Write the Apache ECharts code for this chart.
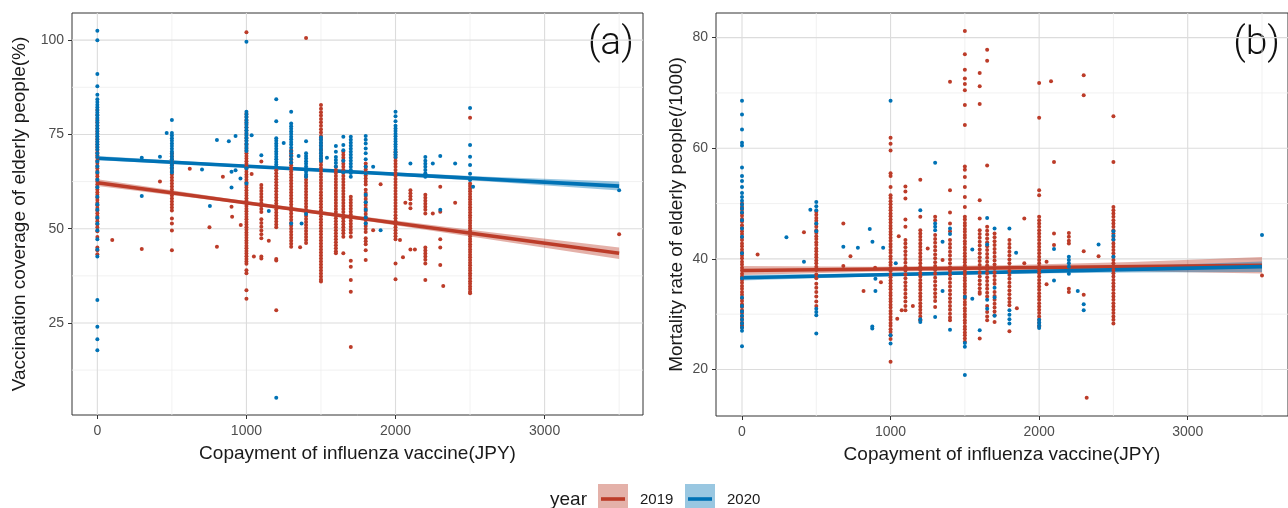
<!DOCTYPE html>
<html><head><meta charset="utf-8">
<script src="https://cdn.jsdelivr.net/npm/echarts@6/dist/echarts.min.js"></script>
<style>html,body{margin:0;padding:0;background:#fff}#c{width:1288px;height:508px}</style>
</head><body><div id="c"></div><script>
// ---------- tick values ----------
const xTicks = [0, 1000, 2000, 3000];
const xMinor = [500, 1500, 2500, 3500];
const aYTicks = [25, 50, 75, 100];
const aYMinor = [12.5, 37.5, 62.5, 87.5];
const bYTicks = [20, 40, 60, 80];
const bYMinor = [30, 50, 70];

// ---------- panel (a): vaccination coverage, columns [copayment, [values]] ----------
const a2019 = [
 [0, [81.5,80.2,79.1,78.2,77.4,76.6,75.8,75.1,74.4,73.7,73,72.3,71.6,70.9,70.2,69.5,68.8,68.1,67.4,66.7,66,65.3,64.6,63.9,63.2,62.5,61.8,61.1,60.4,59.7,59,58.3,57.6,56.9,56.2,55.5,54.8,54.1,53.4,52.7,52,51.2,50.4,49.3,47.8,45,44.3,43.2]],
 [100, [47]], [298, [44.6]], [420, [62.5]],
 [500, [70,69.2,68.4,67.6,66.8,66,65.2,64.4,63.6,62.8,62,61.2,60.4,59.6,58.8,58,57.2,56.4,55.6,54.8,52.7,51.4,49.5,44.3]],
 [620, [65.9]], [752, [50.4]], [802, [45.2]], [842, [63.8]], [900, [55.8]], [904, [53.2]], [962, [51]], [1035, [64.5]],
 [1000, [102.1,80.5,79.6,78.7,77.8,76.9,76,75.1,74.2,73.3,72.4,71.5,70.7,70,69.3,68.6,67.9,67.2,66.5,65.8,65.1,64.4,63.7,63,62.3,61.6,60.9,60.2,59.5,58.8,58.1,57.4,56.7,56,55.3,54.6,53.9,53.2,52.5,51.8,51.1,50.4,49.7,49,48.3,47.6,46.9,46.2,45.5,44.8,44.1,43.4,42.7,42,41.3,40.7,39,38.2,33.7,31.4]],
 [1050, [42.6]],
 [1100, [67.8,61.6,60.8,60,59.2,58.4,57.6,56.8,56,55.2,54.4,52.5,51.5,50.5,49.5,48.5,47.5,42.6,42.1]],
 [1150, [46.8]],
 [1200, [65.5,64.7,63.9,63.1,62.3,61.5,60.7,59.9,59.1,58.3,57.5,56.7,55.9,55.1,54.3,53.5,52.7,51.9,51.1,50.4,42,41.6,28.4]],
 [1300, [70.8,70,69.2,68.4,67.6,66.8,66,65.2,64.4,63.6,62.8,62,61.2,60.4,59.6,58.8,58,57.2,56.4,55.6,54.8,54,53.2,52.4,51.6,50.8,50,49.2,48.4,47.6,46.8,46,45.2]],
 [1360, [45.1]],
 [1400, [100.6,63.8,63,62.2,61.4,60.6,59.8,59,58.2,57.4,56.6,55.8,55,54.2,53.4,52.6,51.8,51,50.2,49.4,48.6,47.8,47,46.2]],
 [1500, [82.8,81.8,80.9,80,79.1,78.2,77.3,76.4,75.5,74.6,73.7,72.8,71.9,71,70.1,69.3,68.5,67.7,66.9,66.1,65.3,64.5,63.7,62.9,62.1,61.3,60.5,59.7,58.9,58.1,57.3,56.5,55.7,54.9,54.1,53.3,52.5,51.7,50.9,50.1,49.3,48.5,47.7,46.9,46.1,45.3,44.5,43.7,42.9,42.1,41.3,40.5,39.7,38.9,38.1,37.3,36.5,36]],
 [1600, [66.4,65.6,64.8,64,63.2,62.4,61.6,60.8,60,59.2,58.4,57.6,56.8,56,55.2,54.4,53.6,52.8,52,51.2,50.4,49.6,48.8,48,47.2,46.4,45.6,44.8,44,43.5]],
 [1650, [70.4,69.6,68.8,68,67.2,66.4,65.6,64.8,64,63.2,62.4,61.6,60.8,60,59.2,58.4,57.6,56.8,56,55.2,54.4,53.6,52.8,52,51.2,50.4,49.6,48.8,47.9,43.5]],
 [1700, [58.5,57.7,56.9,56.1,55.3,54.5,53.7,52.9,52.1,51.3,50.5,49.7,48.9,47.9,41.5,39.9,36.4,33.3,18.6]],
 [1800, [67.3,66.5,65.7,64.9,64.1,63.3,62.5,61.7,60.3,59.5,58.7,57.9,57.1,56.3,55.5,54.7,53.9,53.1,52.3,51.5,50.7,49.9,49.1,47.5,46.7,45.9,44.3,41.7]],
 [1850, [49.6]], [1900, [61.8]],
 [2000, [70.4,69.6,68.8,68,67.2,66.4,65.6,64.8,64,63.2,62.4,61.6,60.8,60,59.2,58.4,57.6,56.8,56,55.2,54.4,53.6,52.8,52,51.2,50.4,49.6,48.8,48,47.2,40.8,36.6]],
 [2030, [47]], [2050, [42.4]], [2066, [56.9]],
 [2100, [60.2,59.4,58.6,57.8,56.6,55.4,44.5]],
 [2130, [44.5]],
 [2200, [59,58.2,57.4,56.6,55.8,55,54,45,44.2,43.4,42.6,41.8,40.8,36.4]],
 [2250, [54]],
 [2300, [61.1,54.5,47.2,45,40.4]],
 [2320, [34.8]], [2400, [56.9]],
 [2500, [79.4,62,61.3,60.6,59.9,59.2,58.5,57.8,57.1,56.4,55.7,55,54.3,53.6,52.9,52.2,51.5,50.8,50.1,49.4,48.7,48,47.3,46.6,45.9,45.2,44.5,43.8,43.1,42.4,41.7,41,40.3,39.6,38.9,38.2,37.5,36.8,36.1,35.4,34.7,34,33.3,32.9]],
 [3500, [48.5]]
];
const a2020 = [
 [0, [102.5,100,91,87.8,85.5,84.3,83.6,82.9,82.2,81.5,80.8,80.1,79.4,78.7,78,77.3,76.6,75.9,75.2,74.5,73.8,73.1,72.4,71.7,71,70,69,67.8,66.5,65,63,61,58.5,56.5,55,53,51.4,49.6,47.2,44.5,42.6,31.1,24,20.7,17.8]],
 [298, [68.8,58.7]], [420, [69.1]], [465, [75.4]],
 [500, [78.8,75.4,74.7,74,73.3,72.6,71.9,71.2,70.5,69.8,69.1,68.4,67.7,67,66.3,65.6,64.9]],
 [702, [65.7]], [755, [56]], [802, [73.5]], [882, [73.2]], [900, [65.1,60.9]], [927, [74.6,65.5]], [960, [63.3]], [1035, [74.8]],
 [1000, [99.6,81,80.3,79.6,78.9,78.2,77.5,76.8,76.1,75.4,74.7,74,73.3,72.6,71.9,71.2,70.6,66,62]],
 [1100, [69.5]], [1150, [54.7]],
 [1200, [84.3,78.5,74,73.3,72.6,71.9,71.2,70.5,69.8,69.1,68.4,67.7,67,66.4,5.2]],
 [1250, [72.7]],
 [1300, [81,77.9,77.2,76.5,75.8,75.1,74.4,73.7,73,72.3,71.5,70.5,69.5,68.5,67.5,51.4]],
 [1350, [69.3]], [1370, [51.4]],
 [1400, [73.2,70,69.3,68.6,67.9,67.2,66.5,65.8,65.1,64.4,63.8,53.9]],
 [1500, [74.2,73.5,72.8,72.1,71.4,70.7,70,69.3,68.6,68]],
 [1540, [68.8]],
 [1600, [71.9,70.4,69,68.2,67.4,66.5]],
 [1650, [74.4,72.2,70.8,68,65]],
 [1700, [74.4,73.6,72.8,72,71.2,70.4,69.6,68.8,68,67.2,66.4,65.6,64.8,63.8]],
 [1800, [74.6,73.6,72.6,71.3,70,68.4,66.4,64.7,59,57,55,53,51.4]],
 [1850, [66.4]], [1900, [49.6]],
 [2000, [81,79.8,78.5,77.3,76.6,75.9,75.2,74.5,73.8,73.1,72.4,71.7,71,70.3,69.6,69]],
 [2100, [67.3]],
 [2200, [69,68,67.2,66.4,65.6,64.7,63.8]],
 [2250, [67.3]], [2300, [69.3,55]], [2400, [67.3]],
 [2500, [82,72.2,69.1,66.9,64.6,62.9]], [2520, [61.1]],
 [3500, [60.2]]
];

// ---------- panel (b): mortality rate ----------
const b2019 = [
 [0, [50,49.4,48.9,48.3,47.8,47.2,46.7,46.1,45.6,45,44.5,43.9,43.4,42.8,42.3,41.7,41.2,40.6,40.1,39.5,39,38.4,37.9,37.3,36.8,36.2,35.7,35.1,34.6,34,33.5,32.9,32.4,31.8,31.3,30.7,30.2,29.6,29.1,28.5,28,27.6]],
 [105, [40.8]], [417, [44.8]],
 [500, [48.5,48,47.4,46.9,46.3,45.8,45.2,44.7,44.1,43.6,43,42.5,41.9,41.4,40.8,40.3,39.7,39.2,38.6,38,37.2,36.5,35.5,34.8,34,33.2,32.3,31.5]],
 [682, [46.4,38.7]], [730, [40.5]], [818, [34.2]], [896, [38.4]], [935, [35.8]],
 [1000, [61.9,60.8,59.6,55.5,55,53,51.5,51,50.4,49.9,49.3,48.8,48.2,47.7,47.1,46.6,46,45.5,44.9,44.4,43.8,43.3,42.7,42.2,41.6,41.1,40.5,40,39.4,38.9,38.3,37.8,37.2,36.7,36.1,35.6,35,34.5,33.9,33.4,32.8,32.3,31.7,31.2,30.6,30.1,29.5,29,28.4,27.9,27.3,26.8,26.2,25.5,21.4]],
 [1045, [29.2]], [1055, [44.1]], [1075, [30.7]],
 [1100, [53.1,52.2,50.9,47.1,45.8,43.4,42.8,42.1,41.4,40.7,40,39.3,38.6,37.9,37.2,36.5,35.8,35.1,34.4,33.7,33,32.3,31.5,30.7]],
 [1150, [31.5]],
 [1200, [54.3,47.6,45.2,44.6,44,43.4,42.8,42.2,41.6,41,40.4,39.8,39.2,38.6,38,37.4,36.8,36.2,35.6,35,34.4,33.8,33.2,32.6,32,31.4,30.8,30.2,29.6,28.9]],
 [1250, [41.9]],
 [1300, [47.6,47,44.3,43.6,42.9,42.2,41.5,40.8,40.1,39.4,38.7,38,37.3,36.6,35.9,35.2,34.5,33.8,33.1,32.4,31.3]],
 [1350, [39.8]],
 [1400, [72,52.4,48.4,46.4,45,43.4,42.7,42,41.3,40.6,39.9,39.2,38.5,37.8,37.1,36.4,35.7,35,34.3,33.6,32.9,32.2,31.5,30.8,30.1,29.4,28.9]],
 [1500, [81.2,77,74.2,72.6,71.6,70.5,67.8,64.2,56.7,56.1,54.8,53,51.2,49.4,47.6,47.1,46.5,46,45.4,44.9,44.3,43.8,43.2,42.7,42.1,41.6,41,40.5,39.9,39.4,38.8,38.3,37.7,37.2,36.6,36.1,35.5,35,34.4,33.9,33.3,32.8,32.2,31.7,31.1,30.6,30,29.5,28.9,28.4,27.8,27.3,26.7,26.2,25.6,25]],
 [1600, [73.6,71.2,68,50.6,47.3,45.2,44.5,43.8,43.1,42.4,41.7,41,40.3,39.6,38.9,38.2,37.5,36.8,36.1,35.4,34.7,34,33.7,25.6]],
 [1650, [77.8,75.8,56.9,45.8,45.1,44.4,43.7,43,42.3,41.6,40.9,40.2,39.5,38.8,38.1,37.4,36.7,36,35.3,34.6,33.9,33.2,31.5,30.4,29.6,28.9]],
 [1700, [44.6,43.9,43.2,42.5,41.8,41.1,40.4,39.7,39,38.3,37.6,36.9,36.2,35.5,34,33.3,32.6,31.9,31.2,30.5,29.8,28.6]],
 [1800, [43.4,42.7,42,41.3,40.6,39.9,39.2,38.5,37.8,37.1,36.4,35.7,35,34.3,33.6,32.9,32.2,31.6,26.9]],
 [1850, [31.1]], [1900, [47.3,39.2]],
 [2000, [71.8,65.5,52.4,51.5,47.6,47,46.4,45.8,45.2,44.6,44,43.4,42.8,42.2,41.6,41,40.4,39.8,39.2,38.6,38,37.4,36.8,36.2,35.6,35,34.4,33.8,33.2,32.6,32,31.4,30.8,30.2,29.6,29,28.4,27.8]],
 [2050, [39.5,35.4]], [2080, [72.1]], [2100, [57.5,44.6,42.5]],
 [2200, [44.7,44,43.3,42.8,34.6,34]],
 [2300, [73.2,69.6,41.4,33.5]], [2320, [14.9]], [2400, [40.5]],
 [2500, [65.8,57.5,49.4,48.8,48.2,47.6,47,46.4,45.8,45.2,44.6,44,43.4,42.8,42.2,41.6,41,40.4,39.8,39.2,38.6,38,37.4,36.8,36.2,35.6,35,34.4,33.8,33.2,32.6,32,31.4,30.8,30.2,29.6,29,28.3]],
 [3500, [37]]
];
const b2020 = [
 [0, [68.6,66.1,63.4,61,60.5,56.5,55,54.1,53,51.9,51.2,50.5,49.8,49.1,48.4,47,45.5,44,41,36.5,33,31.5,30.5,29.7,29,28.3,27.6,27,24.2]],
 [299, [43.9]], [417, [39.5]], [460, [48.9]],
 [500, [50.3,49.5,48.8,46.4,45,31,30.4,29.8,26.5]],
 [682, [42.2]], [780, [42]], [860, [45.4]], [877, [27.8,27.4]], [878, [43.1]], [898, [36.4,34.2]], [950, [42]], [1035, [39.2]],
 [1000, [68.6,26.2,24.7]],
 [1200, [48.8,29.1,28.6]],
 [1300, [57.4,46.4,45.8,45.2,29.5]],
 [1350, [43.1,34.2]],
 [1400, [45.5,44.5,27.2]],
 [1500, [33.1,24.8,24.1,19]],
 [1550, [41.7,32.8]], [1600, [27.1]],
 [1650, [47.4,42.6,32.6,31]],
 [1700, [45.5,34.8,33,29.7]],
 [1800, [45.5,30.7,29.9,29.1,28.3]],
 [1845, [41.1]],
 [2000, [29,28.5,28,27.5]],
 [2100, [41.8,36.1]],
 [2200, [40.4,39.8,39.2,38.6,37.3]],
 [2260, [34.2]], [2300, [31.8,30.7]], [2400, [42.6]],
 [2500, [45,44.2,43.5,40.4]],
 [3500, [44.3]]
];

// ---------- linear fits and confidence bands ----------
const fitX = [0, 3500];
const fitA2019 = [62.2, 43.5];
const fitA2020 = [68.7, 61.3];
const fitB2019 = [37.9, 38.85];
const fitB2020 = [36.6, 38.6];
const bandX = [0, 875, 1750, 2625, 3500];
const bandA2019Lo = [61.3, 57.08, 52.35, 47.23, 42.0];
const bandA2019Hi = [63.1, 57.98, 53.35, 49.13, 45.0];
const bandA2020Lo = [68.15, 66.5, 64.65, 62.55, 60.1];
const bandA2020Hi = [69.25, 67.2, 65.35, 63.75, 62.5];
const bandB2019Lo = [37.1, 37.69, 37.93, 37.76, 37.35];
const bandB2019Hi = [38.7, 38.59, 38.83, 39.46, 40.35];
const bandB2020Lo = [36.1, 36.8, 37.3, 37.55, 37.65];
const bandB2020Hi = [37.1, 37.4, 37.9, 38.65, 39.55];

// ---------- styling ----------
const RED = '#BC3C29', BLUE = '#0072B5';
const RED_BAND = 'rgba(188,60,41,0.4)', BLUE_BAND = 'rgba(0,114,181,0.4)';
const FONT = "'Liberation Sans', Arial, sans-serif";
const MAJOR = '#dcdcdc', MINOR = '#ededed';

function pts(cols) { const out = []; cols.forEach(([x, ys]) => ys.forEach(y => out.push([x, y]))); return out; }

// grid lines drawn beneath the points, positioned through the axes
function gridLines(gi, values, vertical, color, width) {
  return { type: 'custom', xAxisIndex: gi, yAxisIndex: gi, silent: true, z: 0, clip: true,
    data: values.map(v => vertical ? [v, 50] : [0, v]),
    renderItem: (params, api) => {
      const cs = params.coordSys;
      const p = api.coord([api.value(0), api.value(1)]);
      const shape = vertical
        ? { x1: p[0], y1: cs.y, x2: p[0], y2: cs.y + cs.height }
        : { x1: cs.x, y1: p[1], x2: cs.x + cs.width, y2: p[1] };
      return { type: 'line', shape: shape, style: { stroke: color, lineWidth: width } };
    } };
}
function scatter(gi, cols, color) {
  return { type: 'scatter', xAxisIndex: gi, yAxisIndex: gi, data: pts(cols), symbolSize: 4,
    itemStyle: { color: color, opacity: 1, borderWidth: 0 }, silent: true, z: 2 };
}
function band(gi, lo, hi, fill) {
  return { type: 'custom', xAxisIndex: gi, yAxisIndex: gi, data: [[bandX[0], lo[0]]], silent: true, z: 2,
    renderItem: (params, api) => {
      const up = bandX.map((x, i) => api.coord([x, hi[i]]));
      const dn = bandX.map((x, i) => api.coord([x, lo[i]])).reverse();
      return { type: 'polygon', shape: { points: up.concat(dn) }, style: { fill: fill } };
    } };
}
function fit(gi, ys, color) {
  return { type: 'line', xAxisIndex: gi, yAxisIndex: gi, data: fitX.map((x, i) => [x, ys[i]]),
    symbol: 'none', lineStyle: { width: 3.6, color: color }, silent: true, z: 2 };
}
const plain = v => String(v);
function xAx(gi, min, max) {
  return { gridIndex: gi, type: 'value', min: min, max: max, axisLine: { show: false, onZero: false }, splitLine: { show: false },
    axisTick: { show: true, customValues: xTicks, length: 4, lineStyle: { color: '#333', width: 1 } },
    axisLabel: { customValues: xTicks, formatter: plain, margin: 9, color: '#4d4d4d', fontSize: 14, fontFamily: FONT },
    name: 'Copayment of influenza vaccine(JPY)', nameLocation: 'middle', nameGap: 29,
    nameTextStyle: { fontSize: 19, color: '#1a1a1a', fontFamily: FONT } };
}
function yAx(gi, min, max, ticks, name, gap) {
  return { gridIndex: gi, type: 'value', min: min, max: max, axisLine: { show: false, onZero: false }, splitLine: { show: false },
    axisTick: { show: true, customValues: ticks, length: 4, lineStyle: { color: '#333', width: 1 } },
    axisLabel: { customValues: ticks, formatter: plain, margin: 8, color: '#4d4d4d', fontSize: 14, fontFamily: FONT },
    name: name, nameLocation: 'middle', nameGap: gap, nameRotate: 90,
    nameTextStyle: { fontSize: 19, color: '#1a1a1a', fontFamily: FONT } };
}

const chart = echarts.init(document.getElementById('c'), null, { renderer: 'canvas' });
chart.setOption({
  animation: false,
  backgroundColor: '#ffffff',
  grid: [
    { left: 72, top: 13, width: 571, height: 402, show: true, borderColor: '#333', borderWidth: 1, backgroundColor: 'transparent' },
    { left: 716, top: 13, width: 582.5, height: 403, show: true, borderColor: '#333', borderWidth: 1, backgroundColor: 'transparent' }
  ],
  xAxis: [xAx(0, -170, 3660), xAx(1, -175, 3675)],
  yAxis: [
    yAx(0, 0.6, 107.2, aYTicks, 'Vaccination coverage of elderly people(%)', 43),
    yAx(1, 11.6, 84.45, bYTicks, 'Mortality rate of elderly people(/1000)', 30)
  ],
  series: [
    gridLines(0, xMinor, true, MINOR, 0.8), gridLines(0, aYMinor, false, MINOR, 0.8),
    gridLines(0, xTicks, true, MAJOR, 1.1), gridLines(0, aYTicks, false, MAJOR, 1.1),
    gridLines(1, xMinor, true, MINOR, 0.8), gridLines(1, bYMinor, false, MINOR, 0.8),
    gridLines(1, xTicks, true, MAJOR, 1.1), gridLines(1, bYTicks, false, MAJOR, 1.1),
    scatter(0, a2019, RED), scatter(0, a2020, BLUE),
    band(0, bandA2019Lo, bandA2019Hi, RED_BAND), fit(0, fitA2019, RED),
    band(0, bandA2020Lo, bandA2020Hi, BLUE_BAND), fit(0, fitA2020, BLUE),
    scatter(1, b2019, RED), scatter(1, b2020, BLUE),
    band(1, bandB2019Lo, bandB2019Hi, RED_BAND), fit(1, fitB2019, RED),
    band(1, bandB2020Lo, bandB2020Hi, BLUE_BAND), fit(1, fitB2020, BLUE)
  ],
  graphic: [
    { type: 'text', x: 634, y: 44, style: { text: '(a)', align: 'right', verticalAlign: 'middle', font: "300 39px Roboto, 'Liberation Sans', sans-serif", fill: '#111' } },
    { type: 'text', x: 1280, y: 44, style: { text: '(b)', align: 'right', verticalAlign: 'middle', font: "300 39px Roboto, 'Liberation Sans', sans-serif", fill: '#111' } },
    { type: 'text', x: 550, y: 500, style: { text: 'year', align: 'left', verticalAlign: 'middle', font: "19px 'Liberation Sans', Arial, sans-serif", fill: '#1a1a1a' } },
    { type: 'rect', shape: { x: 598, y: 484, width: 30, height: 30 }, style: { fill: RED_BAND } },
    { type: 'line', shape: { x1: 601, y1: 499, x2: 625, y2: 499 }, style: { stroke: RED, lineWidth: 3.6 } },
    { type: 'text', x: 640, y: 500, style: { text: '2019', align: 'left', verticalAlign: 'middle', font: "15px 'Liberation Sans', Arial, sans-serif", fill: '#1a1a1a' } },
    { type: 'rect', shape: { x: 685, y: 484, width: 30, height: 30 }, style: { fill: BLUE_BAND } },
    { type: 'line', shape: { x1: 688, y1: 499, x2: 712, y2: 499 }, style: { stroke: BLUE, lineWidth: 3.6 } },
    { type: 'text', x: 727, y: 500, style: { text: '2020', align: 'left', verticalAlign: 'middle', font: "15px 'Liberation Sans', Arial, sans-serif", fill: '#1a1a1a' } }
  ]
});
</script></body></html>
